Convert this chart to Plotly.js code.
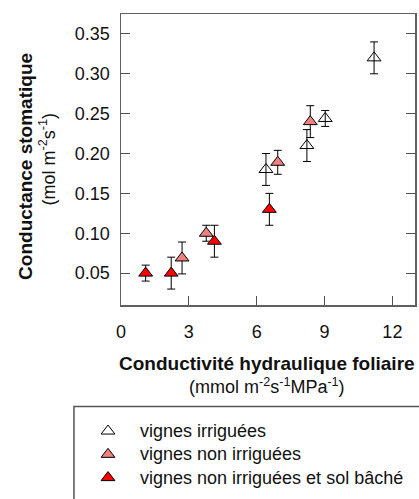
<!DOCTYPE html>
<html>
<head>
<meta charset="utf-8">
<script src="https://cdn.plot.ly/plotly-3.0.1.min.js"></script>
<style>html,body{margin:0;padding:0;background:#fff;}#chart{width:419px;height:499px;}</style>
</head>
<body>
<div id="chart"></div>
<script>
// Data
var irrigX = [6.41, 8.22, 9.03, 11.19];
var irrigY = [0.18, 0.21, 0.244, 0.32];
var irrigErr = [0.02, 0.02, 0.01, 0.02];

var nonIrrigX = [2.70, 3.77, 6.93, 8.37];
var nonIrrigY = [0.069, 0.10, 0.189, 0.24];
var nonIrrigErr = [0.02, 0.01, 0.015, 0.02];

var bacheX = [1.09, 2.22, 4.13, 6.56];
var bacheY = [0.05, 0.05, 0.09, 0.13];
var bacheErr = [0.01, 0.02, 0.02, 0.02];

var seriesNames = ['vignes irriguées', 'vignes non irriguées', 'vignes non irriguées et sol bâché'];
var xTicks = [0, 3, 6, 9, 12];
var yTicks = [0.05, 0.10, 0.15, 0.20, 0.25, 0.30, 0.35];

var FONT = 'Liberation Sans, Arial, sans-serif';

function mk(x, y, err, name, fill) {
  return {
    type: 'scatter', mode: 'markers', x: x, y: y,
    name: '<span style="font-size:18px">' + name + '</span>',
    marker: {symbol: 'triangle-up', size: 12, color: fill, line: {color: '#000', width: 1}},
    error_y: {type: 'data', array: err, visible: true, color: '#000', thickness: 1, width: 4},
    cliponaxis: false
  };
}

var data = [
  mk(irrigX, irrigY, irrigErr, seriesNames[0], 'rgba(255,255,255,0)'),
  mk(nonIrrigX, nonIrrigY, nonIrrigErr, seriesNames[1], '#f08080'),
  mk(bacheX, bacheY, bacheErr, seriesNames[2], '#ff0000')
];

var axisCommon = {
  showline: true, linecolor: '#606060', linewidth: 1.5,
  ticks: 'inside', ticklen: 9, tickcolor: '#505050', tickwidth: 1,
  showgrid: false, zeroline: false,
  tickfont: {family: FONT, size: 18, color: '#111'}
};

var layout = {
  width: 419, height: 499,
  margin: {l: 121, r: 4, t: 14, b: 190},
  paper_bgcolor: '#fff', plot_bgcolor: '#fff',
  showlegend: true,
  xaxis: Object.assign({}, axisCommon, {
    range: [0, 13], tickmode: 'array', tickvals: xTicks, ticktext: xTicks.map(String),
    mirror: true, ticklabelstandoff: 10
  }),
  yaxis: Object.assign({}, axisCommon, {
    range: [0.01, 0.375], tickmode: 'array', tickvals: yTicks, ticktext: yTicks.map(function(v){return v.toFixed(2);}),
    mirror: 'ticks', ticklabelstandoff: 6
  }),
  legend: {
    x: -0.153, y: -0.376, xanchor: 'left', yanchor: 'top',
    bgcolor: 'rgba(0,0,0,0)', borderwidth: 0,
    font: {family: FONT, size: 15.6, color: '#111'},
    itemwidth: 54, tracegroupgap: 0
  },
  shapes: [{
    type: 'rect', xref: 'paper', yref: 'paper',
    x0: -0.160, x1: 1.3, y0: -0.349, y1: -0.8,
    line: {color: '#555', width: 1.5}, fillcolor: 'rgba(0,0,0,0)'
  }],
  annotations: [
    {xref: 'paper', yref: 'paper', x: -0.3248, y: 0.4763, textangle: -90, showarrow: false,
     xanchor: 'center', yanchor: 'middle',
     text: '<b>Conductance stomatique</b>', font: {family: FONT, size: 19, color: '#111'}},
    {xref: 'paper', yref: 'paper', x: -0.2503, y: 0.5017, textangle: -90, showarrow: false,
     xanchor: 'center', yanchor: 'middle',
     text: '(mol m<sup>-2</sup>s<sup>-1</sup>)', font: {family: FONT, size: 18, color: '#111'}},
    {xref: 'paper', yref: 'paper', x: 0.495, y: -0.239, showarrow: false,
     xanchor: 'center', yanchor: 'middle', align: 'center',
     text: '<span style="font-size:19px"><b>Conductivité hydraulique foliaire</b></span><br>(mmol m<sup>-2</sup>s<sup>-1</sup>MPa<sup>-1</sup>)',
     font: {family: FONT, size: 18, color: '#111'}}
  ]
};

Plotly.newPlot('chart', data, layout, {staticPlot: true, displayModeBar: false});
</script>
</body>
</html>
